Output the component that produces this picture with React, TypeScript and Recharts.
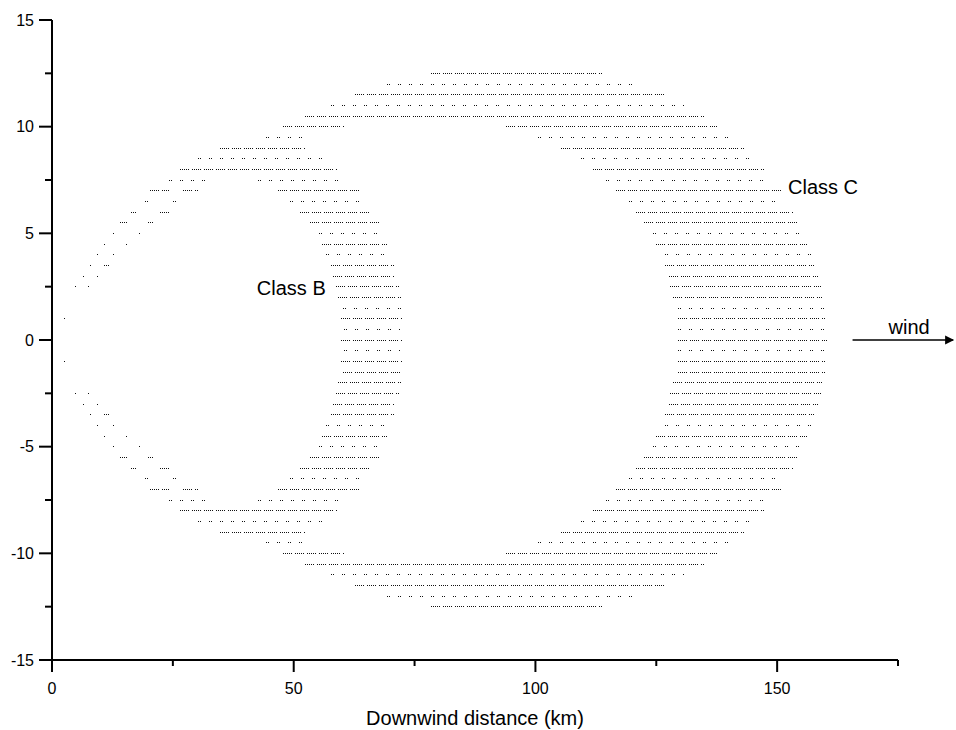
import { ComposedChart, Line, XAxis, YAxis, ReferenceLine, ReferenceDot } from 'recharts';

const FONT = '"Liberation Sans", Arial, sans-serif';

// rows of grid dots, every 0.5 km crosswind (upper half incl. centre line)
const rowY = [12.5, 12, 11.5, 11, 10.5, 10, 9.5, 9, 8.5, 8, 7.5, 7, 6.5, 6, 5.5, 5, 4.5, 4, 3.5, 3, 2.5, 2, 1.5, 1, 0.5, 0];
// D = dense dotted row, S = sparse dotted row
const upperStyle = 'DSDSDDSDSDSDSDDSDSDDDDSDSD';
const lowerStyle = 'SDDDDDDSDSDDSDSDSDSDDSDSD'; // -0.5 ... -12.5

// [start, end, start, end, ...] downwind km for each row in rowY
const rowSegments: number[][] = [
  [78.3, 113.8],
  [69.3, 120.8],
  [62.7, 126.9],
  [57.7, 130.8],
  [52.4, 135.0],
  [47.8, 60.6, 93.9, 137.7],
  [44.3, 52.2, 100.5, 140.8],
  [34.8, 52.4, 105.3, 143.2],
  [30.3, 55.8, 109.4, 144.6],
  [26.4, 59.1, 111.9, 147.3],
  [24.3, 33.1, 42.7, 60.6, 114.5, 148.4],
  [20.2, 24.3, 27.2, 30.1, 46.7, 63.6, 116.7, 150.8],
  [19.3, 20.7, 25.1, 27.2, 49.3, 64.8, 119.3, 150.8],
  [16.3, 17.6, 22.3, 24.1, 51.3, 66.2, 120.8, 153.2],
  [14.1, 15.6, 19.8, 21.0, 53.3, 67.7, 122.5, 154.3],
  [12.7, 12.9, 17.9, 18.1, 55.3, 68.2, 124.4, 155.0],
  [10.8, 11.0, 15.4, 15.8, 55.8, 69.3, 125.0, 156.3],
  [9.3, 9.5, 12.7, 12.9, 56.7, 69.6, 126.9, 157.4],
  [7.8, 8.0, 10.8, 11.7, 57.7, 70.8, 126.9, 157.9],
  [6.4, 6.6, 9.4, 9.6, 58.2, 71.0, 127.6, 158.7],
  [4.8, 5.0, 7.4, 7.6, 58.8, 71.7, 127.9, 159.3],
  [59.1, 72.2, 128.4, 159.3],
  [60.2, 72.2, 129.4, 159.8],
  [2.4, 2.6, 59.8, 72.7, 129.4, 160.0],
  [60.3, 72.2, 129.4, 159.8],
  [59.8, 72.7, 129.4, 160.3],
];

const xTicks = [0, 25, 50, 75, 100, 125, 150, 175];
const yTicks = [-15, -12.5, -10, -7.5, -5, -2.5, 0, 2.5, 5, 7.5, 10, 12.5, 15];

type Pt = { x: number; y: number | null };

function buildRows() {
  const dense: Pt[] = [];
  const sparse: Pt[] = [];
  const add = (y: number, segs: number[], style: string) => {
    const target = style === 'D' ? dense : sparse;
    for (let i = 0; i < segs.length; i += 2) {
      target.push({ x: segs[i], y });
      target.push({ x: segs[i + 1], y });
      target.push({ x: segs[i + 1], y: null });
    }
  };
  rowY.forEach((y, i) => {
    add(y, rowSegments[i], upperStyle[i]);
    if (y !== 0) {
      // lower half mirrors the upper one
      const li = Math.round(y * 2) - 1;
      add(-y, rowSegments[i], lowerStyle[li]);
    }
  });
  return { dense, sparse };
}

function XTick(props: any) {
  const { x, y, payload } = props;
  const major = payload.value % 50 === 0;
  return (
    <g>
      <line x1={x} x2={x} y1={y} y2={y + (major ? 12 : 6)} stroke="#000" strokeWidth={2} />
      {major && (
        <text x={x} y={y + 34} textAnchor="middle" fontSize={16} fontFamily={FONT} fill="#000">
          {payload.value}
        </text>
      )}
    </g>
  );
}

function YTick(props: any) {
  const { x, y, payload } = props;
  const major = payload.value % 5 === 0;
  return (
    <g>
      <line x1={x} x2={x - (major ? 13 : 7)} y1={y} y2={y} stroke="#000" strokeWidth={2} />
      {major && (
        <text x={x - 18} y={y} dy="0.35em" textAnchor="end" fontSize={16} fontFamily={FONT} fill="#000">
          {payload.value}
        </text>
      )}
    </g>
  );
}

const labelStyle = { fill: '#000', fontSize: 20, fontFamily: FONT };

export default function App() {
  const { dense, sparse } = buildRows();
  return (
    <div style={{ position: 'absolute', left: 0, top: 0 }}>
      <style>{'.dot-rows .recharts-line-curve { shape-rendering: crispEdges; }'}</style>
      <ComposedChart className="dot-rows" width={956} height={730} margin={{ top: 20, right: 58, left: 0, bottom: 0 }}>
        <XAxis
          type="number"
          dataKey="x"
          domain={[0, 175]}
          ticks={xTicks}
          interval={0}
          allowDataOverflow
          height={70}
          tickSize={0}
          tickMargin={0}
          tick={XTick}
          axisLine={{ stroke: '#000', strokeWidth: 2 }}
          label={{ value: 'Downwind distance (km)', position: 'insideBottom', offset: 5, ...labelStyle }}
        />
        <YAxis
          type="number"
          domain={[-15, 15]}
          ticks={yTicks}
          interval={0}
          allowDataOverflow
          width={52}
          tickSize={0}
          tickMargin={0}
          tick={YTick}
          axisLine={{ stroke: '#000', strokeWidth: 2 }}
        />
        <Line
          data={dense}
          dataKey="y"
          type="linear"
          stroke="#111"
          strokeWidth={1}
          strokeDasharray="1 1 1 1 1 1 1 1 1 3"
          dot={false}
          activeDot={false}
          isAnimationActive={false}
        />
        <Line
          data={sparse}
          dataKey="y"
          type="linear"
          stroke="#111"
          strokeWidth={1}
          strokeDasharray="1 1 1 8"
          dot={false}
          activeDot={false}
          isAnimationActive={false}
        />
        <ReferenceLine
          segment={[{ x: 165.6, y: 0 }, { x: 186.4, y: 0 }]}
          stroke="#000"
          strokeWidth={1.5}
          ifOverflow="visible"
        />
        <ReferenceDot
          x={186.4}
          y={0}
          r={4}
          ifOverflow="visible"
          shape={(p: any) => (
            <polygon points={`${p.cx - 8},${p.cy - 4.5} ${p.cx - 8},${p.cy + 4.5} ${p.cx + 1},${p.cy}`} fill="#000" />
          )}
        />
        <ReferenceDot x={177.3} y={0.6} r={0} fill="none" stroke="none" ifOverflow="visible"
          label={{ value: 'wind', position: 'center', ...labelStyle }} />
        <ReferenceDot x={49.5} y={2.42} r={0} fill="none" stroke="none" ifOverflow="visible"
          label={{ value: 'Class B', position: 'center', ...labelStyle }} />
        <ReferenceDot x={159.5} y={7.19} r={0} fill="none" stroke="none" ifOverflow="visible"
          label={{ value: 'Class C', position: 'center', ...labelStyle }} />
      </ComposedChart>
    </div>
  );
}
